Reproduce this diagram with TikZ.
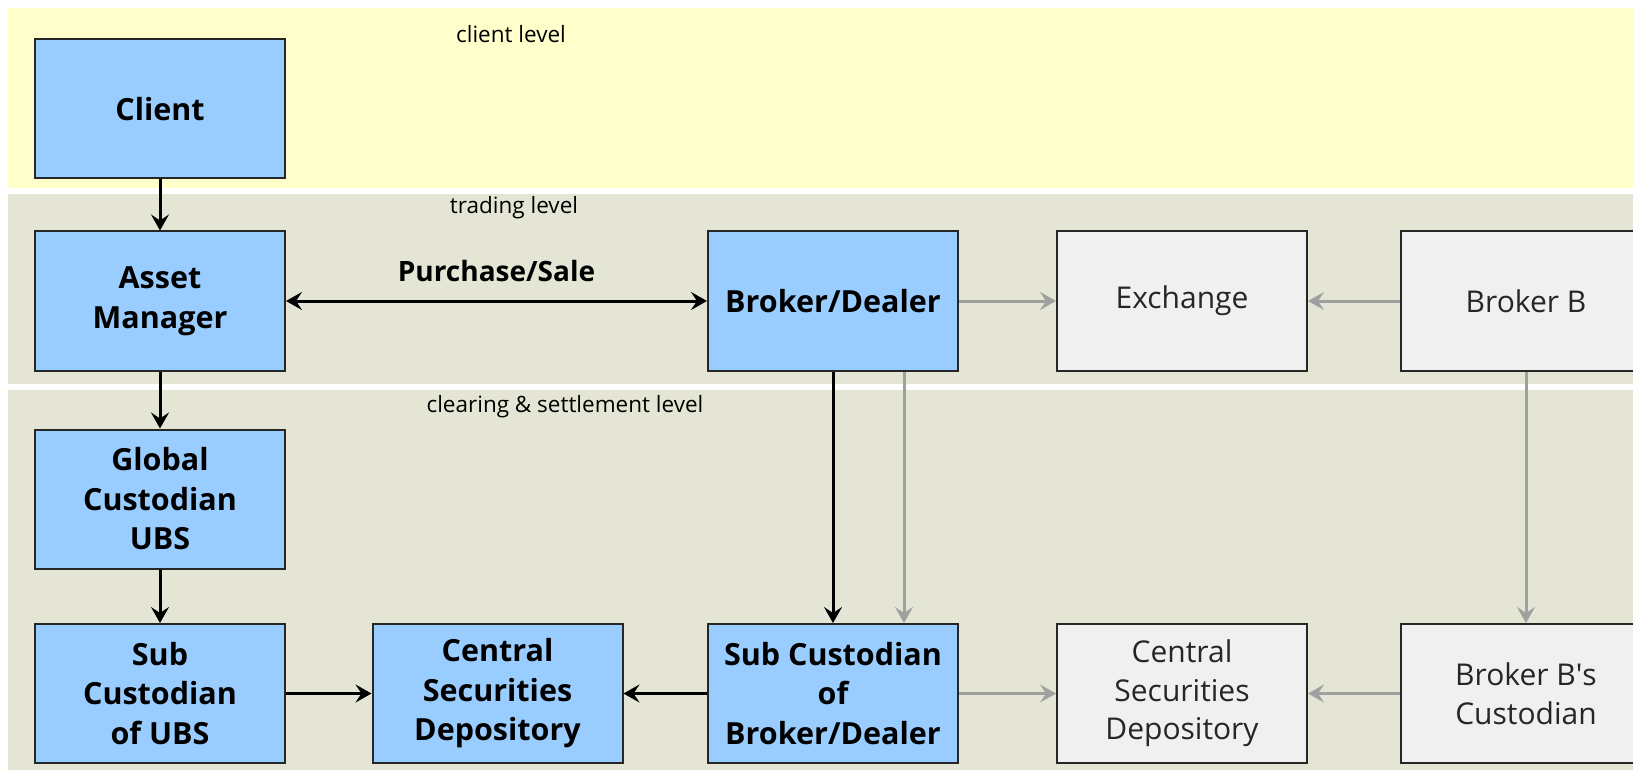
\documentclass[tikz,border=0pt]{standalone}
\usepackage{fontspec}
\setmainfont{Open Sans}
\usetikzlibrary{arrows.meta}
\definecolor{bandyellow}{HTML}{FFFFCC}
\definecolor{bandgrey}{HTML}{E5E5D5}
\definecolor{boxblue}{HTML}{99CCFF}
\definecolor{boxgrey}{HTML}{F0F0F0}
\definecolor{arrgrey}{HTML}{A0A0A0}
\tikzset{
  bluebox/.style={draw=black!85, line width=2pt, fill=boxblue, minimum width=250pt, minimum height=139pt,
    align=center, inner sep=0pt, font=\fontsize{30.5}{39.5}\selectfont\bfseries},
  greybox/.style={draw=black!85, line width=2pt, fill=boxgrey, minimum width=250pt, minimum height=139pt,
    align=center, inner sep=0pt, text=black!85, font=\fontsize{30}{38.5}\selectfont},
  levellabel/.style={font=\fontsize{22.5}{26}\selectfont, inner sep=0pt},
  blackarr/.style={line width=3pt, draw=black, -{Stealth[length=16pt,width=18pt,inset=6pt]}},
  blackarr2/.style={line width=3pt, draw=black, {Stealth[length=16pt,width=18pt,inset=6pt]}-{Stealth[length=16pt,width=18pt,inset=6pt]}},
  greyarr/.style={line width=3pt, draw=arrgrey, -{Stealth[length=16pt,width=18pt,inset=6pt]}},
}
\begin{document}
\begin{tikzpicture}[x=1pt,y=-1pt]
\useasboundingbox (0,0) rectangle (1633,770);
\begin{scope}
\clip (0,0) rectangle (1633,770);
% bands
\fill[bandyellow] (8,8) rectangle (1640,188);
\fill[bandgrey] (8,194) rectangle (1640,384);
\fill[bandgrey] (8,390) rectangle (1640,780);
\node[levellabel] (lclient) at (511,34) {client level};
\node[levellabel] (ltrading) at (514,208) {trading level};
\node[levellabel] (lclearing) at (565,407) {clearing \& settlement level};
% boxes
\node[bluebox] (client) at (160,109) {Client};
\node[bluebox] (am) at (160,301) {Asset\\Manager};
\node[bluebox] (gc) at (160,499) {Global\\Custodian\\UBS};
\node[bluebox] (scubs) at (160,693.5) {Sub\\Custodian\\of UBS};
\node[bluebox] (csd) at (497.5,693.5) {Central\\Securities\\Depository};
\node[bluebox] (scbd) at (833,693.5) {Sub Custodian\\of\\Broker/Dealer};
\node[bluebox] (bd) at (833,301) {Broker/Dealer};
\node[greybox] (ex) at (1182,301) {Exchange};
\node[greybox] (csd2) at (1182,693.5) {Central\\Securities\\Depository};
\node[greybox] (bb) at (1526,301) {Broker B};
\node[greybox] (bbc) at (1526,693.5) {Broker B\textquotesingle s\\Custodian};
% connectors
\draw[blackarr] (client) -- (am);
\draw[blackarr] (am) -- (gc);
\draw[blackarr] (gc) -- (scubs);
\draw[blackarr] (scubs) -- (csd);
\draw[blackarr] (scbd) -- (csd);
\draw[blackarr] (bd) -- (scbd);
\draw[blackarr2] (am) -- node[above=14pt, font=\fontsize{28}{32}\selectfont\bfseries] {Purchase/Sale} (bd);
\draw[greyarr] ([xshift=71pt]bd.south) -- ([xshift=71pt]scbd.north);
\draw[greyarr] (bd) -- (ex);
\draw[greyarr] (bb) -- (ex);
\draw[greyarr] (scbd) -- (csd2);
\draw[greyarr] (bbc) -- (csd2);
\draw[greyarr] (bb) -- (bbc);
\end{scope}
\end{tikzpicture}
\end{document}
